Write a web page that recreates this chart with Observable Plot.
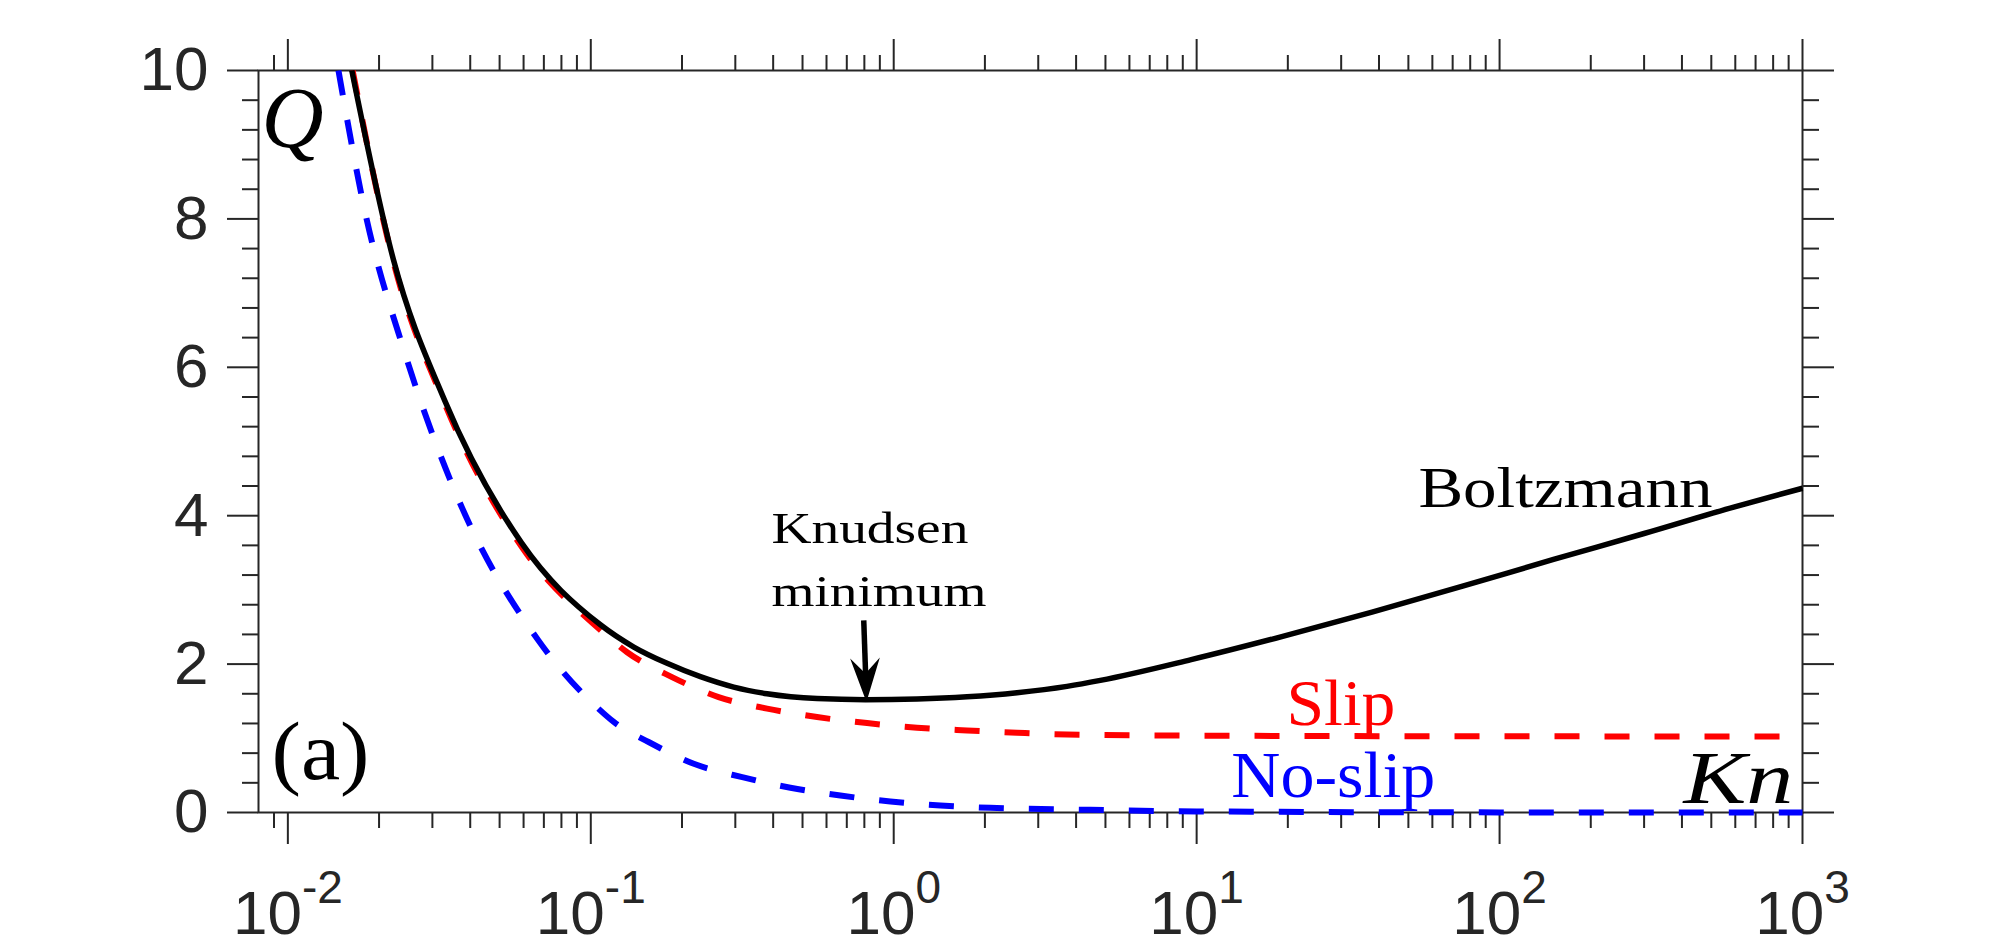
<!DOCTYPE html>
<html>
<head>
<meta charset="utf-8">
<script src="https://cdn.jsdelivr.net/npm/d3@7"></script>
<script src="https://cdn.jsdelivr.net/npm/@observablehq/plot@0.6"></script>
<style>
  html, body { margin: 0; padding: 0; background: #fff; }
  #chart { width: 1992px; height: 948px; }
</style>
</head>
<body>
<div id="chart"></div>
<script>
// Dimensionless flow rate Q versus Knudsen number Kn for three flow models.
const knBoltzmann = [0.01626, 0.02228, 0.03304, 0.05916, 0.1076, 0.1387, 0.1786, 0.2301, 0.2965, 0.3819,
  0.5585, 0.8072, 1.194, 1.746, 2.553, 3.733, 4.808, 9.594, 19.10, 37.93, 75.51, 150.7, 299.9, 597.0, 1000];
const qBoltzmann = [10, 7.46, 5.54, 3.63, 2.53, 2.23, 2.01, 1.83, 1.69, 1.60,
  1.535, 1.52, 1.53, 1.56, 1.615, 1.70, 1.78, 2.06, 2.37, 2.70, 3.05, 3.41, 3.76, 4.12, 4.37];

const knSlip = [0.01636, 0.02228, 0.03304, 0.05916, 0.1076, 0.1318, 0.1854, 0.2642, 0.3819, 0.5585,
  0.8166, 1.194, 1.746, 2.553, 3.733, 10, 31.6, 100, 1000];
const qSlip = [10, 7.43, 5.50, 3.58, 2.46, 2.16, 1.825, 1.555, 1.40, 1.286,
  1.205, 1.143, 1.106, 1.075, 1.052, 1.036, 1.03, 1.027, 1.025];

const knNoSlip = [0.01469, 0.01799, 0.02438, 0.03656, 0.06714, 0.1059, 0.1191, 0.1552, 0.2188, 0.3162,
  0.456, 0.6668, 0.975, 1.426, 2.084, 4.457, 10, 100, 1000];
const qNoSlip = [10, 8.09, 6.18, 4.22, 2.32, 1.40, 1.22, 0.95, 0.657, 0.476,
  0.333, 0.229, 0.148, 0.094, 0.063, 0.036, 0.015, 0.0015, 0.00015];

// Axis ticks: decades on x (labelled 10^k), every 2 on y
const xTickExponents = [-2, -1, 0, 1, 2, 3];
const yTicks = [0, 2, 4, 6, 8, 10];

const rows = (kn, q) => kn.map((k, i) => ({kn: k, q: q[i]}));

const xMajor = xTickExponents.map(e => Math.pow(10, e));
const xMinor = [];
for (let k = -3; k <= 2; k++) {
  for (let m = 2; m <= 9; m++) {
    const v = m * Math.pow(10, k);
    if (v > 0.0081 && v < 1000) xMinor.push(v);
  }
}
const yMinor = d3.range(1, 25).filter(i => i % 5 !== 0).map(i => i * 0.4);

const axisColor = "#262626";
const sans = "'Liberation Sans', Arial, Helvetica, sans-serif";
const serif = "'Liberation Serif', 'Times New Roman', serif";
const baseSize = 62, expSize = 46;

const tickOnly = {stroke: axisColor, strokeWidth: 2, fill: "none", label: null};

// "10" plus a raised exponent, centred together on each decade tick
const expWidth = e => String(e).split("").reduce((s, c) => s + (c === "-" ? 0.333 : 0.556), 0) * expSize;
const xLabelMarks = xTickExponents.flatMap(e => {
  const shift = (2 * 0.556 * baseSize - expWidth(e)) / 2;
  return [
    Plot.text([e], {x: d => Math.pow(10, d), text: () => "10", frameAnchor: "bottom",
      textAnchor: "end", lineAnchor: "bottom", dx: shift, dy: 121,
      fontSize: baseSize, fontFamily: sans, fill: axisColor}),
    Plot.text([e], {x: d => Math.pow(10, d), text: d => String(d), frameAnchor: "bottom",
      textAnchor: "start", lineAnchor: "bottom", dx: shift, dy: 90,
      fontSize: expSize, fontFamily: sans, fill: axisColor})
  ];
});

// Filled arrowhead with a notched back, tip at the origin pointing down
const tilt = 1.9 * Math.PI / 180;
const arrowHead = {
  draw(context, size) {
    const r = Math.sqrt(size / Math.PI);
    const len = 4 * r, half = 1.35 * r, notch = 2.6 * r;
    const dx = Math.sin(tilt), dy = Math.cos(tilt);
    const nx = -dy, ny = dx;
    context.moveTo(0, 0);
    context.lineTo(-len * dx + half * nx, -len * dy + half * ny);
    context.lineTo(-notch * dx, -notch * dy);
    context.lineTo(-len * dx - half * nx, -len * dy - half * ny);
    context.closePath();
  }
};

const note = (t, x, y, opts) =>
  Plot.text([t], {x: () => x, y: () => y, text: d => d, lineAnchor: "bottom",
    textAnchor: "start", fontFamily: serif, ...opts});

const chart = Plot.plot({
  width: 1992,
  height: 948,
  marginLeft: 258,
  marginRight: 190,
  marginTop: 70,
  marginBottom: 136,
  style: {background: "#fff", overflow: "visible"},
  x: {type: "log", domain: [0.008, 1000]},
  y: {domain: [0, 10]},
  marks: [
    Plot.axisX({anchor: "bottom", ticks: xMajor, tickSize: 32, ...tickOnly}),
    Plot.axisX({anchor: "top", ticks: xMajor, tickSize: 32, ...tickOnly}),
    Plot.axisX({anchor: "bottom", ticks: xMinor, tickSize: 16, ...tickOnly}),
    Plot.axisX({anchor: "top", ticks: xMinor, tickSize: 16, ...tickOnly}),
    Plot.axisY({anchor: "left", ticks: yTicks, tickSize: 31, tickPadding: 19,
      stroke: axisColor, strokeWidth: 2, fill: axisColor, fontSize: baseSize, fontFamily: sans,
      label: null, tickFormat: d => String(d)}),
    Plot.axisY({anchor: "right", ticks: yTicks, tickSize: 31, ...tickOnly}),
    Plot.axisY({anchor: "left", ticks: yMinor, tickSize: 16, ...tickOnly}),
    Plot.axisY({anchor: "right", ticks: yMinor, tickSize: 16, ...tickOnly}),
    Plot.frame({stroke: axisColor, strokeWidth: 2}),
    ...xLabelMarks,

    Plot.line(rows(knNoSlip, qNoSlip), {x: "kn", y: "q", stroke: "#0000ff", strokeWidth: 6,
      strokeDasharray: "25,25", strokeLinecap: "butt", curve: "monotone-x"}),
    Plot.line(rows(knSlip, qSlip), {x: "kn", y: "q", stroke: "#ff0000", strokeWidth: 6,
      strokeDasharray: "25,25", strokeLinecap: "butt", curve: "monotone-x"}),
    Plot.line(rows(knBoltzmann, qBoltzmann), {x: "kn", y: "q", stroke: "#000", strokeWidth: 5.5,
      strokeLinecap: "butt", curve: "monotone-x"}),

    // Knudsen minimum pointer
    Plot.link([0], {x1: () => 0.7963, y1: () => 2.59, x2: () => 0.8078, y2: () => 1.86,
      stroke: "#000", strokeWidth: 5.5}),
    Plot.dot([0], {x: () => 0.8128, y: () => 1.488, symbol: arrowHead, r: 11, fill: "#000", stroke: "none"}),

    note("Knudsen", 0.3947, 3.629, {fontSize: 44, fill: "#000"}),
    note("minimum", 0.3947, 2.779, {fontSize: 44, fill: "#000"}),
    note("Boltzmann", 53.97, 4.114, {fontSize: 57, fill: "#000"}),
    note("Slip", 19.79, 1.1736, {fontSize: 65, fill: "#ff0000"}),
    note("No-slip", 13.02, 0.2023, {fontSize: 65, fill: "#0000ff"}),

    Plot.text(["Q"], {text: d => d, frameAnchor: "top-left", textAnchor: "start", lineAnchor: "bottom",
      dx: 3, dy: 76, fontSize: 86, fontStyle: "italic", fontFamily: serif, fill: "#000"}),
    Plot.text(["Kn"], {text: d => d, frameAnchor: "bottom-right", textAnchor: "end",
      lineAnchor: "bottom", dx: -9, dy: -10, fontSize: 73, fontStyle: "italic", fontFamily: serif, fill: "#000"}),
    Plot.text(["(a)"], {text: d => d, frameAnchor: "bottom-left", textAnchor: "start",
      lineAnchor: "bottom", dx: 13, dy: -34, fontSize: 82, fontFamily: serif, fill: "#000"})
  ]
});

// Widen the serif labels to the proportions of the Computer Modern face
const widths = {
  "Knudsen": 197, "minimum": 215, "Boltzmann": 294,
  "Slip": 109, "No-slip": 204, "Kn": 110, "(a)": 98
};
chart.querySelectorAll("text").forEach(t => {
  const len = widths[t.textContent];
  if (len) {
    t.setAttribute("textLength", len);
    t.setAttribute("lengthAdjust", "spacingAndGlyphs");
  }
});

document.getElementById("chart").appendChild(chart);
</script>
</body>
</html>
